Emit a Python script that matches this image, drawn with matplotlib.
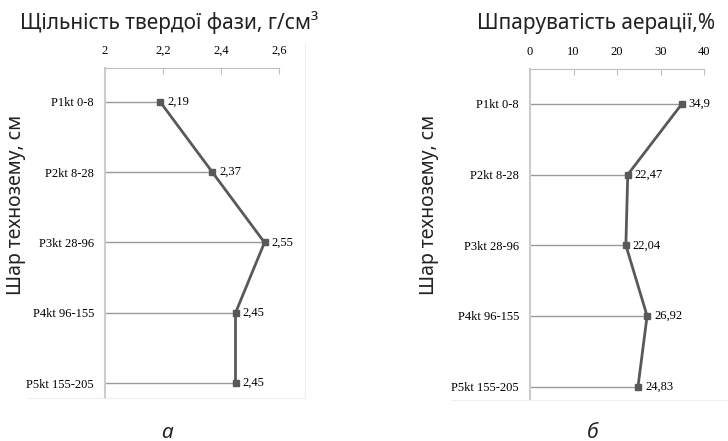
import matplotlib.pyplot as plt
from matplotlib.lines import Line2D

layers = ['P1kt 0-8', 'P2kt 8-28', 'P3kt 28-96', 'P4kt 96-155', 'P5kt 155-205']
density = [2.19, 2.37, 2.55, 2.45, 2.45]
density_labels = ['2,19', '2,37', '2,55', '2,45', '2,45']
porosity = [34.9, 22.47, 22.04, 26.92, 24.83]
porosity_labels = ['34,9', '22,47', '22,04', '26,92', '24,83']
density_ticks = [2, 2.2, 2.4, 2.6]
density_ticklabels = ['2', '2,2', '2,4', '2,6']
porosity_ticks = [0, 10, 20, 30, 40]

serif = 'Liberation Serif'
sans = 'Noto Sans'

fig = plt.figure(figsize=(7.28, 4.41), dpi=100)

# faint chart-area borders
fig.add_artist(Line2D([28/728, 305/728], [1 - 398/441, 1 - 398/441], color='#eeeeee', lw=0.8))
fig.add_artist(Line2D([305/728, 305/728], [1 - 398/441, 1 - 43/441], color='#eeeeee', lw=0.8))
fig.add_artist(Line2D([452/728, 1.0], [1 - 400/441, 1 - 400/441], color='#eeeeee', lw=0.8))


def profile(rect, values, labels, ticks, ticklabels, xlim, ylim, dx):
    ax = fig.add_axes(rect)
    y = list(range(len(values)))
    ax.hlines(y, xlim[0], values, color='#9a9a9a', lw=1.0, zorder=1)
    ax.plot(values, y, color='#595959', lw=2.0, marker='s', ms=5, zorder=3)
    for v, yy, s in zip(values, y, labels):
        ax.text(v + dx, yy, s, va='center', ha='left', fontsize=9, family=serif)
    ax.set_xlim(*xlim)
    ax.set_ylim(*ylim)
    ax.xaxis.tick_top()
    ax.set_xticks(ticks)
    ax.set_xticklabels(ticklabels, family=serif, fontsize=9)
    ax.tick_params(axis='x', direction='in', length=4, color='#bfbfbf', pad=8)
    ax.set_yticks(y)
    ax.set_yticklabels(layers, family=serif, fontsize=9)
    ax.tick_params(axis='y', length=0, pad=8)
    for side in ['bottom', 'right']:
        ax.spines[side].set_visible(False)
    ax.spines['top'].set_color('#bfbfbf')
    ax.spines['left'].set_color('#cccccc')
    ax.spines['left'].set_linewidth(1.5)
    ax.set_facecolor('none')
    return ax


profile([105/728, 1 - 398/441, 174/728, 330/441], density, density_labels,
        density_ticks, density_ticklabels, (2, 2.6), (4.21, -0.48), 0.025)
profile([530/728, 1 - 400/441, 174/728, 331/441], porosity, porosity_labels,
        porosity_ticks, [str(t) for t in porosity_ticks], (0, 40), (4.19, -0.495), 1.6)

txt = dict(family=sans, color='#222222')
fig.text(20/728, 1 - 23/441, 'Щільність твердої фази, г/см³', fontsize=15,
         va='center', ha='left', **txt)
fig.text(477/728, 1 - 23/441, 'Шпаруватість аерації,%', fontsize=15,
         va='center', ha='left', **txt)
fig.text(16/728, 1 - 205/441, 'Шар технозему, см', rotation=90, fontsize=14,
         va='center', ha='center', **txt)
fig.text(429/728, 1 - 205/441, 'Шар технозему, см', rotation=90, fontsize=14,
         va='center', ha='center', **txt)
fig.text(167/728, 1 - 432/441, 'а', fontsize=15, style='italic',
         va='center', ha='center', **txt)
fig.text(593/728, 1 - 432/441, 'б', fontsize=15, style='italic',
         va='center', ha='center', **txt)

fig.savefig('out.png', dpi=100)
